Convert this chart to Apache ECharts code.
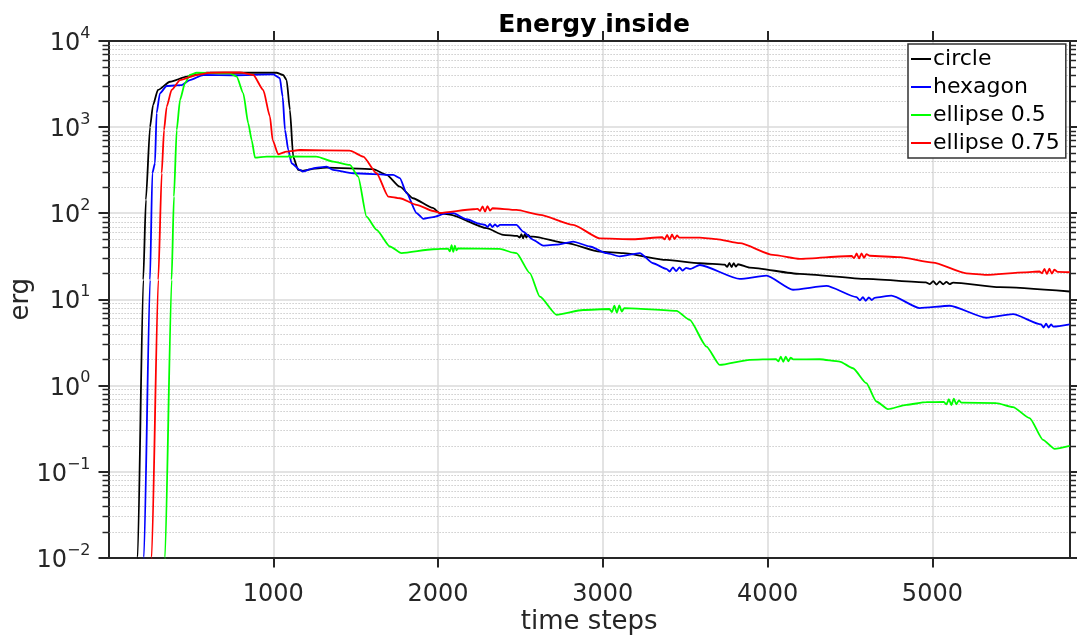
<!DOCTYPE html>
<html>
<head>
<meta charset="utf-8">
<title>Energy inside</title>
<script src="https://cdn.jsdelivr.net/npm/echarts@6/dist/echarts.min.js"></script>
<style>
  html, body { margin: 0; padding: 0; background: #ffffff; }
  #chart { width: 1077px; height: 641px; }
</style>
</head>
<body>
<div id="chart"></div>
<script>
// ---- data -------------------------------------------------------------
const seriesNames = ['circle', 'hexagon', 'ellipse 0.5', 'ellipse 0.75'];
const seriesColors = ['#000000', '#0000ff', '#00ff00', '#ff0000'];

const xTickValues = [1000, 2000, 3000, 4000, 5000];
const xMin = 0;
const xMax = 5835;
const yMin = 0.01;
const yMax = 10000;

const circleSteps = [170, 177, 211, 227, 252, 270, 300, 373, 474, 596, 1020, 1060, 1081, 1101, 1121, 1151, 1180, 1250, 1324, 1606, 1688, 1768, 1847, 1968, 2011, 2072, 2294, 2395, 2480, 2496, 2506, 2516, 2526, 2536, 2546, 2557, 2577, 2780, 2982, 3123, 3386, 3588, 3740, 3755, 3768, 3781, 3794, 3807, 3820, 3891, 4195, 4599, 4960, 4985, 5005, 5025, 5045, 5065, 5085, 5105, 5125, 5408, 5833];
const circleErg = [0.001, 0.01, 16.8, 143, 1000, 1800, 2700, 3360, 3850, 4280, 4280, 4030, 3520, 1580, 450, 318, 310, 330, 338, 324, 278, 203, 149, 115, 100, 96, 67, 56, 54.5, 52, 57, 51, 57, 52, 56, 53.5, 53.5, 44.8, 35.7, 34.3, 28.6, 26.2, 25.2, 23.8, 26.5, 23.6, 26.3, 23.9, 25.5, 23.3, 19.7, 17.2, 15.7, 15.0, 16.2, 14.8, 16.1, 14.9, 15.9, 15.0, 15.6, 13.8, 12.3];

const hexagonSteps = [208, 215, 252, 266, 282, 292, 312, 353, 444, 494, 575, 757, 1000, 1040, 1057, 1071, 1091, 1111, 1162, 1180, 1242, 1324, 1362, 1485, 1728, 1768, 1809, 1870, 1910, 1970, 2052, 2092, 2173, 2254, 2285, 2300, 2315, 2330, 2345, 2360, 2375, 2476, 2516, 2577, 2638, 2719, 2820, 2921, 3022, 3103, 3224, 3305, 3386, 3405, 3425, 3445, 3465, 3485, 3505, 3530, 3588, 3831, 3993, 4154, 4357, 4540, 4560, 4578, 4596, 4614, 4632, 4650, 4751, 4923, 5105, 5327, 5489, 5660, 5675, 5690, 5705, 5720, 5735, 5833];
const hexagonErg = [0.001, 0.01, 16.8, 291, 380, 1450, 2470, 3000, 3080, 3520, 4030, 4000, 4100, 3690, 2250, 927, 542, 380, 318, 305, 332, 347, 318, 291, 278, 255, 171, 100, 86, 90, 100, 100, 85, 75, 73, 69, 75, 69, 74, 70, 73, 73, 61, 49, 42, 43, 46.8, 41, 34.3, 31.5, 34.4, 26.2, 22.5, 21, 23.5, 21.2, 23.4, 21.5, 23.2, 22.5, 25, 17.2, 18.8, 12.9, 14.3, 10.6, 9.7, 10.6, 9.6, 10.5, 9.8, 10.4, 11.0, 7.9, 8.4, 6.1, 6.7, 5.1, 4.7, 5.2, 4.7, 5.1, 4.8, 5.1];

const ellipse05Steps = [336, 343, 383, 397, 414, 434, 464, 494, 535, 737, 778, 818, 848, 869, 889, 960, 1090, 1098, 1106, 1114, 1263, 1364, 1465, 1515, 1566, 1627, 1708, 1778, 1970, 2060, 2072, 2082, 2092, 2102, 2112, 2122, 2375, 2456, 2476, 2557, 2618, 2719, 2880, 3040, 3055, 3070, 3085, 3100, 3115, 3130, 3447, 3527, 3629, 3709, 3891, 4050, 4065, 4080, 4095, 4110, 4125, 4140, 4155, 4316, 4437, 4518, 4599, 4660, 4730, 4842, 4963, 5070, 5085, 5100, 5115, 5130, 5145, 5160, 5175, 5388, 5489, 5590, 5671, 5742, 5833];
const ellipse05Erg = [0.001, 0.01, 16.8, 156, 927, 2070, 3230, 4030, 4280, 4200, 3850, 2470, 1107, 707, 442, 454, 454, 470, 440, 455, 454, 396, 363, 266, 91, 64, 41, 34.3, 38.1, 38.8, 36, 42.5, 35.5, 42, 37, 39, 38.5, 34.8, 34.3, 20.1, 10.7, 6.6, 7.5, 7.7, 7.1, 8.4, 7.0, 8.5, 7.2, 7.9, 7.33, 5.75, 2.82, 1.73, 1.98, 2.02, 1.9, 2.15, 1.88, 2.16, 1.9, 2.1, 2.0, 2.01, 1.89, 1.58, 1.06, 0.649, 0.529, 0.593, 0.638, 0.64, 0.6, 0.69, 0.59, 0.7, 0.6, 0.67, 0.63, 0.621, 0.558, 0.416, 0.233, 0.183, 0.198];

const ellipse075Steps = [255, 262, 302, 323, 337, 353, 383, 434, 535, 616, 798, 879, 939, 980, 996, 1030, 1081, 1162, 1465, 1546, 1627, 1698, 1768, 1870, 1970, 2011, 2213, 2240, 2255, 2270, 2285, 2300, 2315, 2330, 2476, 2618, 2820, 2982, 3184, 3360, 3375, 3390, 3405, 3420, 3435, 3450, 3465, 3588, 3689, 3831, 4033, 4195, 4510, 4525, 4540, 4555, 4570, 4585, 4600, 4620, 4801, 5003, 5206, 5327, 5560, 5650, 5665, 5680, 5695, 5710, 5725, 5740, 5760, 5833];
const ellipse075Erg = [0.001, 0.01, 16.8, 291, 927, 1720, 2700, 3520, 4030, 4280, 4330, 4030, 2700, 1320, 707, 483, 519, 542, 532, 454, 291, 156, 149, 125, 106, 101, 111, 112, 106, 120, 104, 121, 107, 114, 109, 95.6, 73, 51, 49.8, 52.5, 49.5, 56, 49, 56.5, 50, 55, 52, 52, 50, 44.8, 32.7, 29.4, 31.8, 30, 34, 29.8, 34.2, 30.2, 33.5, 32, 30.8, 26.7, 20, 19.2, 20.5, 21, 20, 22.5, 19.6, 22.6, 19.8, 22, 20.8, 20.6];

const allSteps = [circleSteps, hexagonSteps, ellipse05Steps, ellipse075Steps];
const allErg = [circleErg, hexagonErg, ellipse05Erg, ellipse075Erg];

// ---- styling ----------------------------------------------------------
const FONT = '"DejaVu Sans", "Liberation Sans", sans-serif';
const AXIS_COLOR = '#262626';
const MAJOR_GRID = '#dadada';
const MINOR_GRID = '#c0c0c0';

// minor decade positions 2..9 x 10^k for the dotted grid and small ticks
const minorValues = [];
for (let k = -2; k < 4; k++) {
  for (let m = 2; m <= 9; m++) minorValues.push(m * Math.pow(10, k));
}

const SUP_MINUS = '\u2212';
function decadeLabel(v) {
  const e = Math.round(Math.log10(v));
  const s = e < 0 ? SUP_MINUS + Math.abs(e) : String(e);
  return '{b|10}{e|' + s + '}';
}

const lineSeries = seriesNames.map((name, i) => ({
  name: name,
  type: 'line',
  xAxisIndex: 0,
  yAxisIndex: 0,
  data: allSteps[i].map((t, j) => [t, allErg[i][j]]),
  showSymbol: false,
  symbol: 'none',
  smooth: 0.2,
  smoothMonotone: 'x',
  clip: true,
  z: 5,
  lineStyle: { color: seriesColors[i], width: 1.8 },
  itemStyle: { color: seriesColors[i] },
  emphasis: { disabled: true }
}));

// dotted minor grid lines plus the short minor ticks on both y axes
const minorGridSeries = {
  name: 'minor-grid',
  type: 'custom',
  xAxisIndex: 0,
  yAxisIndex: 0,
  silent: true,
  z: 1,
  clip: false,
  data: minorValues.map(v => [xMin, v]),
  renderItem: function (params, api) {
    const v = api.value(1);
    const p0 = api.coord([xMin, v]);
    const p1 = api.coord([xMax, v]);
    const y = Math.round(p0[1]) + 0.5;
    return {
      type: 'group',
      children: [
        {
          type: 'line',
          shape: { x1: p0[0] + 1, y1: y, x2: p1[0] - 1, y2: y },
          style: { stroke: MINOR_GRID, lineWidth: 1.2, lineDash: [1.2, 1.8] }
        },
        {
          type: 'line',
          shape: { x1: p0[0] - 6, y1: y, x2: p0[0], y2: y },
          style: { stroke: AXIS_COLOR, lineWidth: 1.5 }
        },
        {
          type: 'line',
          shape: { x1: p1[0], y1: y, x2: p1[0] + 6, y2: y },
          style: { stroke: AXIS_COLOR, lineWidth: 1.5 }
        }
      ]
    };
  }
};

const chart = echarts.init(document.getElementById('chart'), null, { renderer: 'canvas' });

chart.setOption({
  animation: false,
  backgroundColor: '#ffffff',
  textStyle: { fontFamily: FONT },
  title: {
    text: 'Energy inside',
    left: 589,
    textAlign: 'center',
    top: 8,
    textStyle: { fontFamily: FONT, fontSize: 25, fontWeight: 'bold', color: '#000000' }
  },
  grid: { left: 108.5, right: 7, top: 41, bottom: 83.5, containLabel: false, outerBoundsMode: 'none' },
  legend: {
    data: seriesNames,
    orient: 'vertical',
    left: 908,
    top: 44,
    padding: [4, 6, 4, 3],
    itemGap: 6,
    itemWidth: 20,
    itemHeight: 2,
    icon: 'rect',
    backgroundColor: '#ffffff',
    borderColor: '#333333',
    borderWidth: 1.5,
    borderRadius: 0,
    selectedMode: false,
    textStyle: { fontFamily: FONT, fontSize: 22, color: '#000000', lineHeight: 22, padding: [0, 0, 0, -3] }
  },
  xAxis: [
    {
      type: 'value',
      position: 'bottom',
      min: xMin,
      max: xMax,
      interval: 1000,
      name: 'time steps',
      nameLocation: 'middle',
      nameGap: 52,
      nameMoveOverlap: false,
      nameTextStyle: { fontFamily: FONT, fontSize: 26, color: AXIS_COLOR },
      axisLine: { show: true, onZero: false, lineStyle: { color: AXIS_COLOR, width: 2 } },
      axisTick: { show: true, inside: false, length: 10, customValues: xTickValues, lineStyle: { color: AXIS_COLOR, width: 2 } },
      axisLabel: {
        show: true, margin: 25, customValues: xTickValues,
        formatter: v => String(v),
        fontFamily: FONT, fontSize: 24, color: AXIS_COLOR
      },
      splitLine: { show: true, lineStyle: { color: MAJOR_GRID, width: 1.5 } },
      minorTick: { show: false },
      minorSplitLine: { show: false }
    },
    {
      type: 'value',
      position: 'top',
      min: xMin,
      max: xMax,
      interval: 1000,
      axisLine: { show: true, onZero: false, lineStyle: { color: AXIS_COLOR, width: 2 } },
      axisTick: { show: true, inside: false, length: 10, customValues: xTickValues, lineStyle: { color: AXIS_COLOR, width: 2 } },
      axisLabel: { show: false },
      splitLine: { show: false }
    }
  ],
  yAxis: [
    {
      type: 'log',
      logBase: 10,
      position: 'left',
      min: yMin,
      max: yMax,
      splitNumber: 6,
      name: 'erg',
      nameLocation: 'middle',
      nameGap: 74,
      nameMoveOverlap: false,
      nameRotate: 90,
      nameTextStyle: { fontFamily: FONT, fontSize: 26, color: AXIS_COLOR },
      axisLine: { show: true, onZero: false, lineStyle: { color: AXIS_COLOR, width: 2 } },
      axisTick: { show: true, inside: false, length: 10, lineStyle: { color: AXIS_COLOR, width: 2 } },
      axisLabel: {
        show: true,
        margin: 18,
        formatter: decadeLabel,
        rich: {
          b: { fontFamily: FONT, fontSize: 24, color: AXIS_COLOR, lineHeight: 30, verticalAlign: 'bottom' },
          e: { fontFamily: FONT, fontSize: 16, color: AXIS_COLOR, lineHeight: 14, verticalAlign: 'top' }
        }
      },
      splitLine: { show: true, lineStyle: { color: MAJOR_GRID, width: 1.5 } }
    },
    {
      type: 'log',
      logBase: 10,
      position: 'right',
      min: yMin,
      max: yMax,
      splitNumber: 6,
      axisLine: { show: true, onZero: false, lineStyle: { color: AXIS_COLOR, width: 2 } },
      axisTick: { show: true, inside: false, length: 10, lineStyle: { color: AXIS_COLOR, width: 2 } },
      axisLabel: { show: false },
      splitLine: { show: false }
    }
  ],
  series: [minorGridSeries].concat(lineSeries)
});
</script>
</body>
</html>
